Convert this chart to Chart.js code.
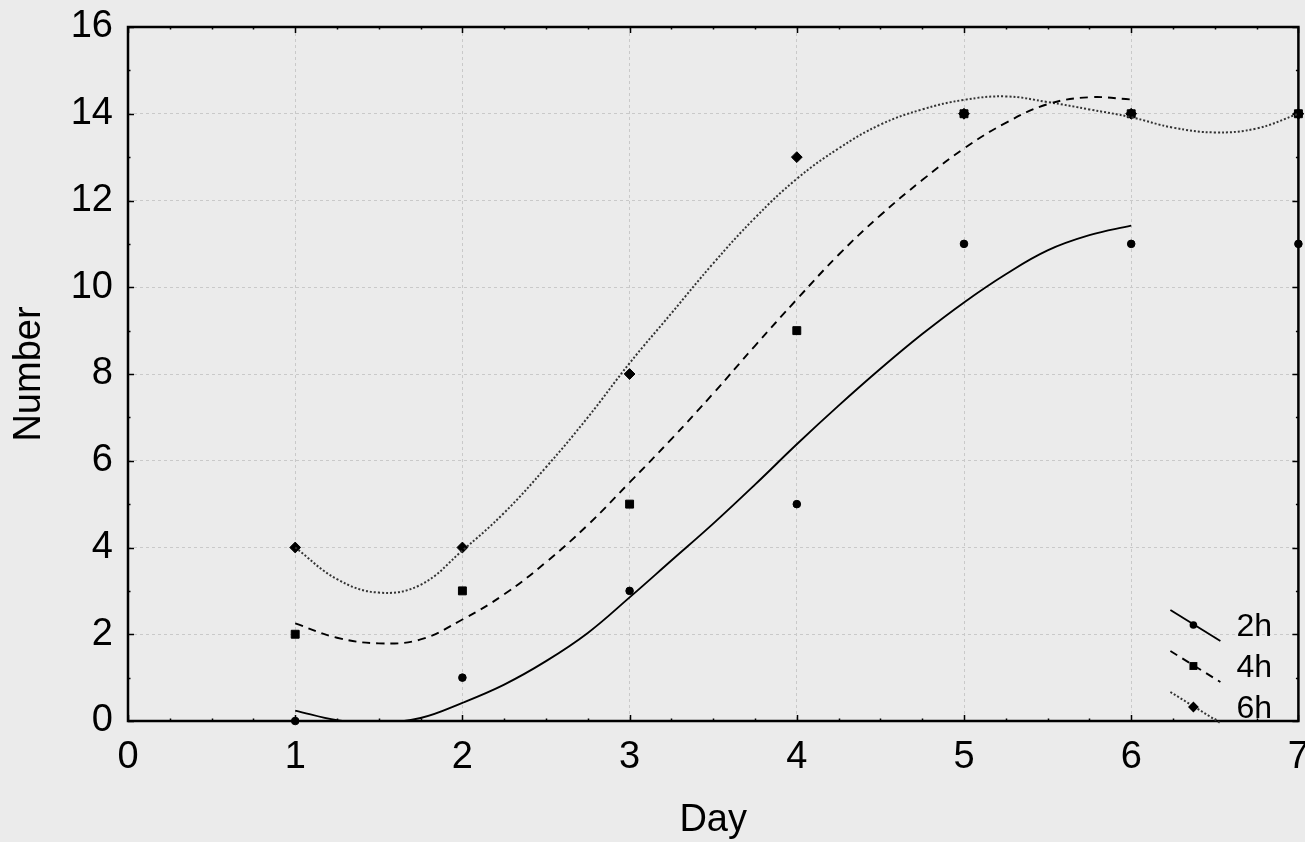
<!DOCTYPE html>
<html lang="en">
<head>
    <meta charset="UTF-8">
    <title>Number by Day</title>
    <script src="https://cdn.jsdelivr.net/npm/chart.js"></script>
    <style>
        body { margin: 0; background: #ebebeb; overflow: hidden; }
        #wrap { width: 1305px; height: 842px; position: relative; }
    </style>
</head>
<body>
    <div id="wrap"><canvas id="myChart"></canvas></div>

    <script>
        // observed counts
        const days = [1, 2, 3, 4, 5, 6, 7];
        const obs2h = [0, 1, 3, 5, 11, 11, 11];
        const obs4h = [2, 3, 5, 9, 14, 14, 14];
        const obs6h = [4, 4, 8, 13, 14, 14, 14];

        // fitted curves, every quarter day
        const fitDays = [1, 1.25, 1.5, 1.75, 2, 2.25, 2.5, 2.75, 3, 3.25, 3.5, 3.75, 4,
                         4.25, 4.5, 4.75, 5, 5.25, 5.5, 5.75, 6, 6.25, 6.5, 6.75, 7];
        const fit2h = [0.24, 0.02, -0.05, 0.07, 0.42, 0.84, 1.38, 2.03, 2.85, 3.7, 4.55, 5.45, 6.38,
                       7.27, 8.12, 8.92, 9.65, 10.3, 10.85, 11.2, 11.42];
        const fit4h = [2.25, 1.92, 1.79, 1.88, 2.34, 2.92, 3.66, 4.52, 5.5, 6.5, 7.55, 8.65, 9.72,
                       10.75, 11.66, 12.47, 13.2, 13.79, 14.22, 14.38, 14.33];
        const fit6h = [4.0, 3.27, 2.96, 3.14, 3.93, 4.8, 5.85, 7.0, 8.25, 9.4, 10.55, 11.6, 12.5,
                       13.2, 13.75, 14.1, 14.32, 14.4, 14.27, 14.1, 13.92, 13.68, 13.57, 13.66, 14.0];

        const seriesLabels = ['2h', '4h', '6h'];
        const xTicks = [0, 1, 2, 3, 4, 5, 6, 7];
        const yTicks = [0, 2, 4, 6, 8, 10, 12, 14, 16];

        const FONT = "'Liberation Sans', Arial, sans-serif";
        const pts = (xs, ys) => ys.map((v, i) => ({ x: xs[i], y: v }));

        const markers = [
            { style: 'circle', radius: 3.8 },
            { style: 'rect', radius: 5.6 },
            { style: 'rectRot', radius: 5.4 }
        ];
        const lineStyles = [
            { dash: [], width: 1.9, color: '#000' },
            { dash: [8, 6], width: 1.9, color: '#000' },
            { dash: [2, 2], width: 2, color: '#333' }
        ];

        function curve(data, i) {
            return {
                label: seriesLabels[i] + ' fit',
                data: pts(fitDays, data),
                showLine: true,
                pointRadius: 0,
                borderColor: lineStyles[i].color,
                borderWidth: lineStyles[i].width,
                borderDash: lineStyles[i].dash,
                tension: 0.4,
                fill: false
            };
        }
        function points(data, i) {
            return {
                label: seriesLabels[i],
                data: pts(days, data),
                showLine: false,
                pointStyle: markers[i].style,
                pointRadius: markers[i].radius,
                backgroundColor: '#000',
                borderColor: '#000',
                borderWidth: 1,
                clip: false
            };
        }

        // frame with inward major/minor ticks
        const framePlugin = {
            id: 'frame',
            beforeDatasetsDraw(chart) {
                const { ctx, chartArea: a, scales: { x, y } } = chart;
                ctx.save();
                ctx.strokeStyle = '#000';
                ctx.lineWidth = 1.5;
                ctx.beginPath();
                for (let v = 0; v <= 7; v += 0.25) {
                    const px = Math.round(x.getPixelForValue(v)) + 0.5;
                    const len = v % 1 === 0 ? 6 : 2.5;
                    ctx.moveTo(px, a.bottom); ctx.lineTo(px, a.bottom - len);
                    ctx.moveTo(px, a.top); ctx.lineTo(px, a.top + len);
                }
                for (let v = 0; v <= 16; v += 1) {
                    const py = Math.round(y.getPixelForValue(v)) + 0.5;
                    const len = v % 2 === 0 ? 6 : 2.5;
                    ctx.moveTo(a.left, py); ctx.lineTo(a.left + len, py);
                    ctx.moveTo(a.right, py); ctx.lineTo(a.right - len, py);
                }
                ctx.stroke();
                ctx.lineWidth = 2.5;
                ctx.strokeRect(a.left, a.top, a.right - a.left, a.bottom - a.top);
                ctx.restore();
            }
        };

        function drawMarker(ctx, style, r, cx, cy) {
            ctx.beginPath();
            if (style === 'circle') {
                ctx.arc(cx, cy, r, 0, Math.PI * 2);
            } else if (style === 'rect') {
                const s = r * Math.SQRT1_2;
                ctx.rect(cx - s, cy - s, 2 * s, 2 * s);
            } else {
                ctx.moveTo(cx - r, cy); ctx.lineTo(cx, cy - r);
                ctx.lineTo(cx + r, cy); ctx.lineTo(cx, cy + r);
                ctx.closePath();
            }
            ctx.fill();
        }

        // legend in the lower right corner, diagonal line samples
        const legendPlugin = {
            id: 'cornerLegend',
            afterDraw(chart) {
                const { ctx, chartArea: a } = chart;
                ctx.save();
                seriesLabels.forEach((lab, i) => {
                    const cy = a.bottom - 96 + i * 41;
                    const x0 = a.right - 128, x1 = a.right - 78;
                    ctx.strokeStyle = lineStyles[i].color;
                    ctx.lineWidth = lineStyles[i].width;
                    ctx.setLineDash(lineStyles[i].dash);
                    ctx.beginPath();
                    ctx.moveTo(x0, cy - 15);
                    ctx.lineTo(x1, cy + 16);
                    ctx.stroke();
                    ctx.setLineDash([]);
                    ctx.fillStyle = '#000';
                    drawMarker(ctx, markers[i].style, markers[i].radius, (x0 + x1) / 2 - 2, cy);
                    ctx.font = '32px ' + FONT;
                    ctx.textBaseline = 'middle';
                    ctx.textAlign = 'left';
                    ctx.fillText(lab, a.right - 62, cy + 2);
                });
                ctx.restore();
            }
        };

        const ctx = document.getElementById('myChart').getContext('2d');
        let myChart = new Chart(ctx, {
            type: 'scatter',
            data: {
                datasets: [
                    curve(fit2h, 0),
                    curve(fit4h, 1),
                    curve(fit6h, 2),
                    points(obs2h, 0),
                    points(obs4h, 1),
                    points(obs6h, 2)
                ]
            },
            options: {
                responsive: true,
                maintainAspectRatio: false,
                animation: false,
                layout: { padding: { top: 27, right: 5, bottom: 0, left: 0 } },
                plugins: { legend: { display: false }, tooltip: { enabled: false } },
                scales: {
                    x: {
                        type: 'linear',
                        min: 0, max: 7,
                        afterBuildTicks: s => { s.ticks = xTicks.map(v => ({ value: v })); },
                        afterFit: s => { s.height = 121; s.paddingLeft = 0; s.paddingRight = 0; },
                        grid: { color: '#c9c9c9', lineWidth: 1, drawTicks: false },
                        border: { display: false, dash: [3, 3] },
                        ticks: { color: '#000', padding: 14, maxRotation: 0, font: { family: FONT, size: 38 } },
                        title: { display: true, text: 'Day', color: '#000', padding: { top: 0, bottom: 2 },
                                 font: { family: FONT, size: 38, lineHeight: 1 } }
                    },
                    y: {
                        type: 'linear',
                        min: 0, max: 16,
                        afterBuildTicks: s => { s.ticks = yTicks.map(v => ({ value: v })); },
                        afterFit: s => { s.width = 128; s.paddingTop = 0; s.paddingBottom = 0; },
                        grid: { color: '#c9c9c9', lineWidth: 1, drawTicks: false },
                        border: { display: false, dash: [3, 3] },
                        ticks: { color: '#000', padding: 15, font: { family: FONT, size: 38 } },
                        title: { display: true, text: 'Number', color: '#000', padding: { top: 11, bottom: 0 },
                                 font: { family: FONT, size: 38, lineHeight: 1 } }
                    }
                }
            },
            plugins: [framePlugin, legendPlugin]
        });
    </script>
</body>
</html>
